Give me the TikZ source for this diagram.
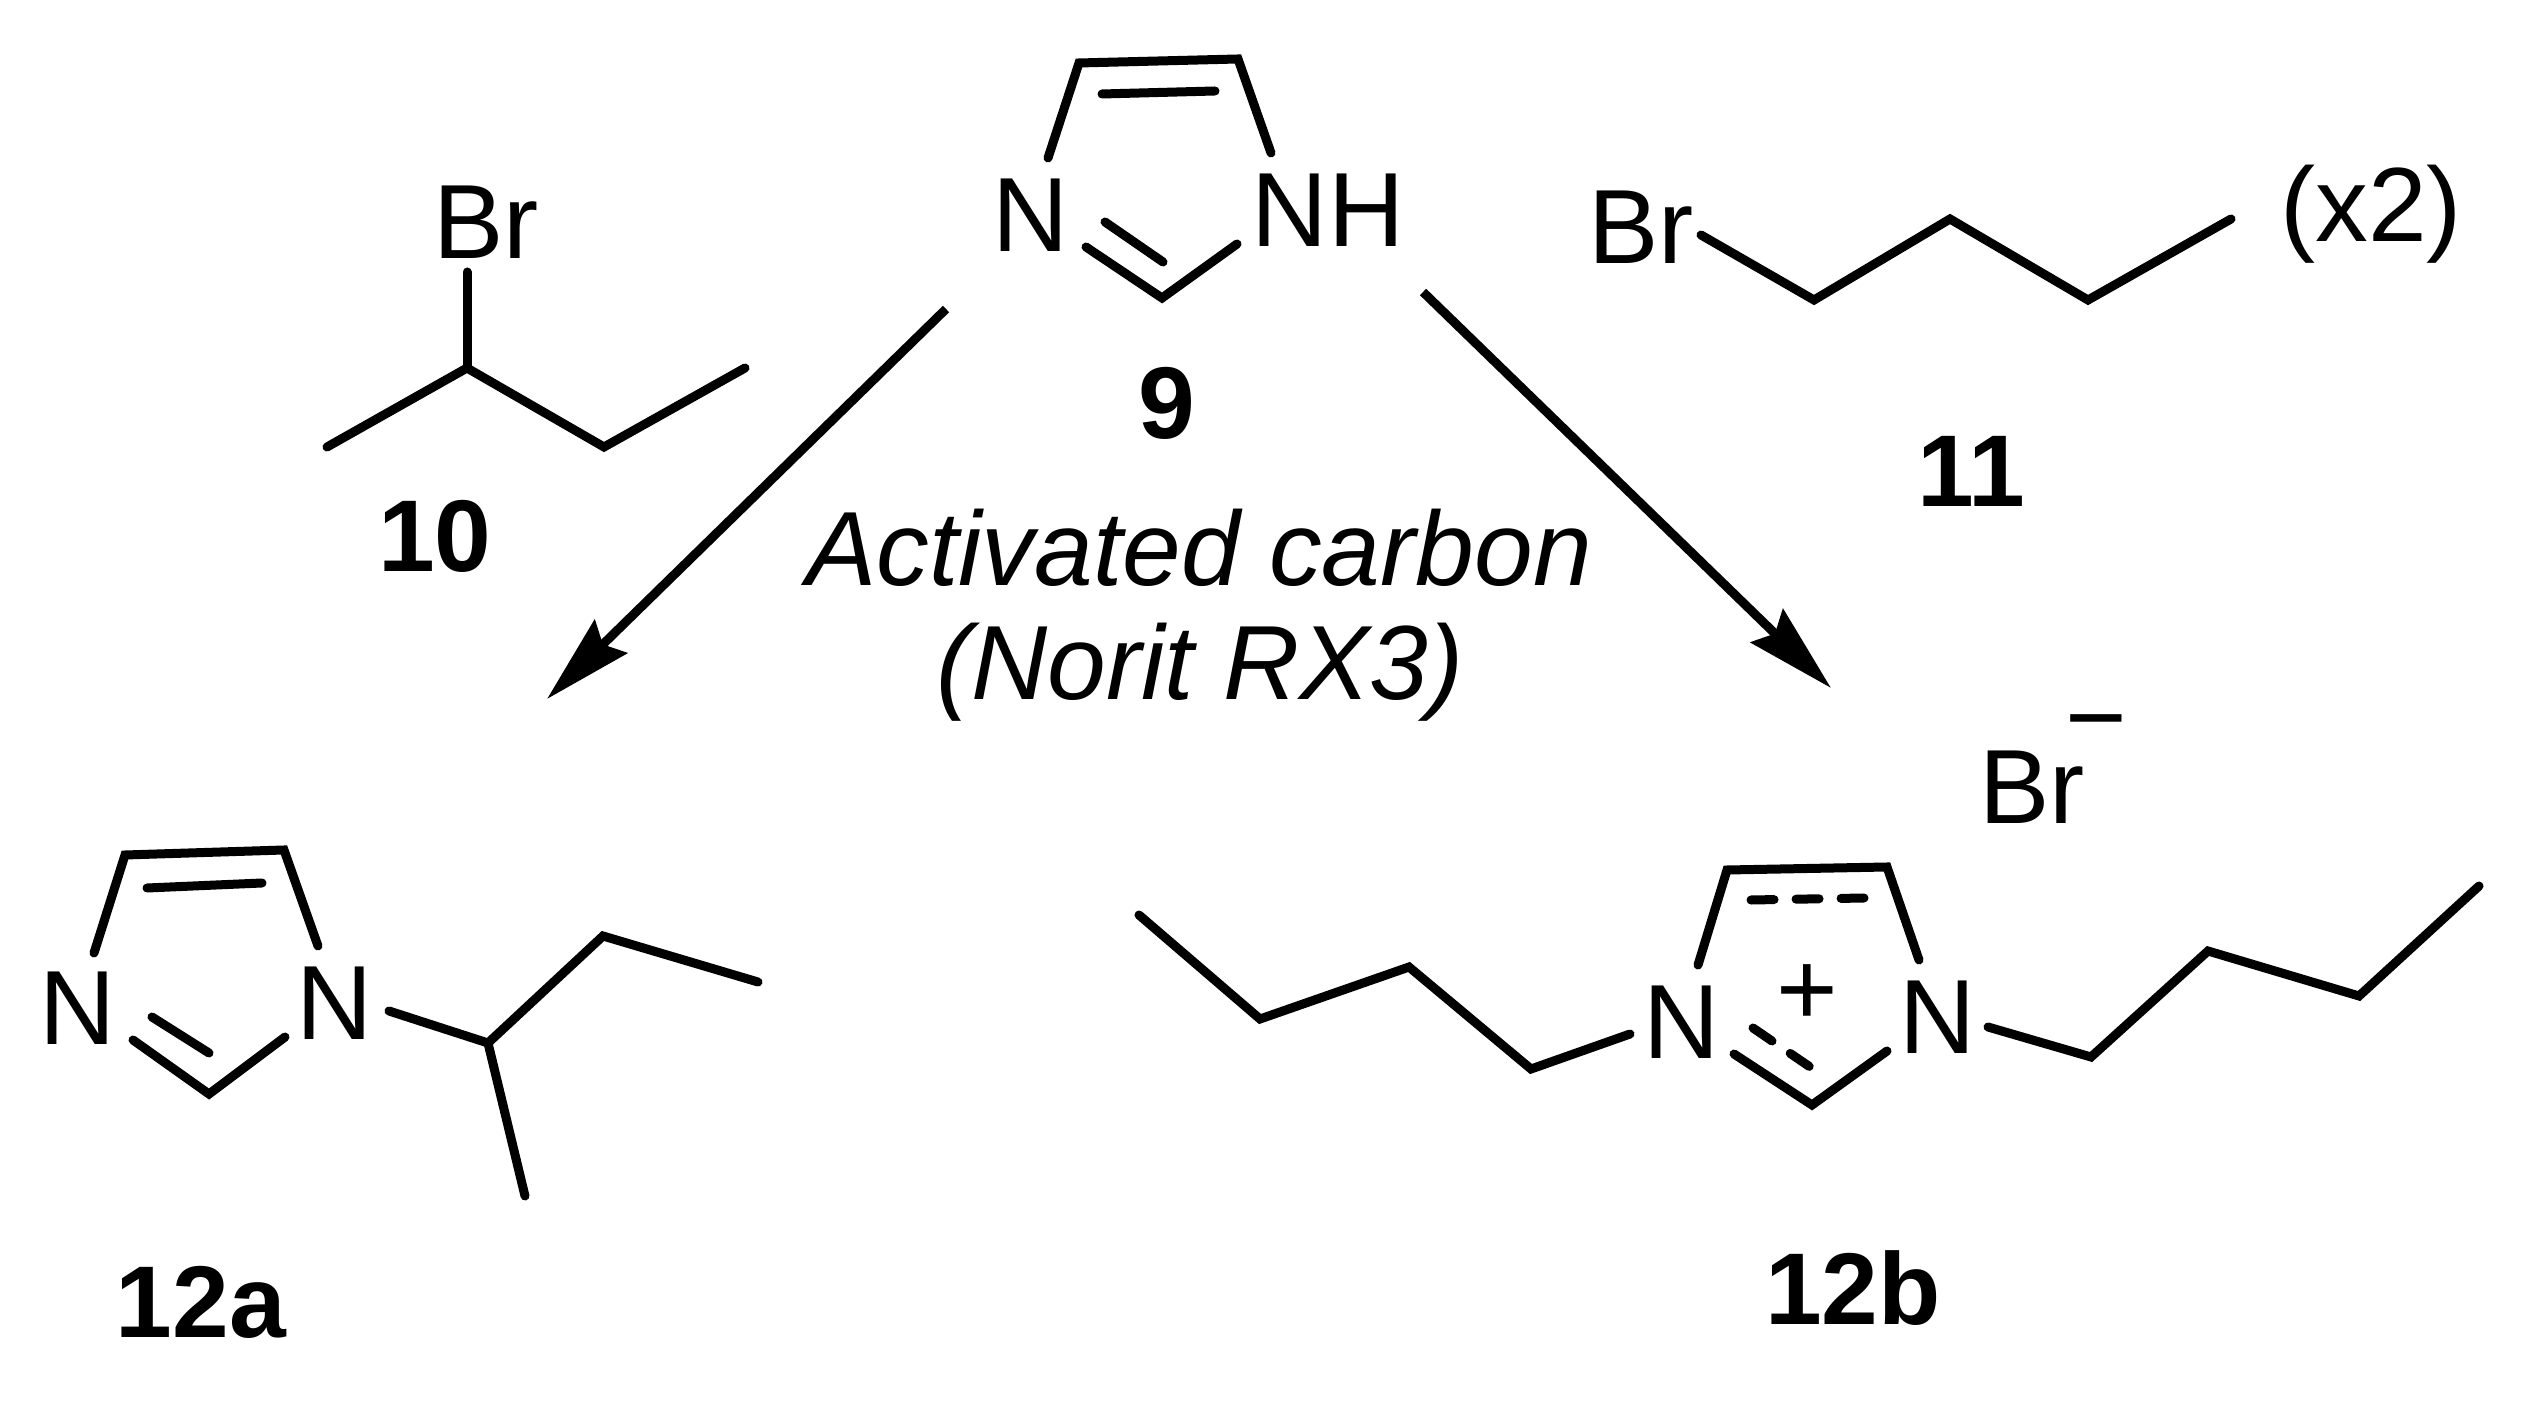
\documentclass[tikz,border=0pt]{standalone}
\usepackage{fontspec}
\setmainfont{Liberation Sans}
\usetikzlibrary{arrows.meta}

\begin{document}
\begin{tikzpicture}[x=0.01cm, y=-0.01cm]
    \tikzstyle{atom} = [inner sep=0pt, font=\fontsize{30}{36}\selectfont]
    \tikzstyle{compound} = [inner sep=0pt, font=\fontsize{29}{35}\selectfont\bfseries]
    \tikzstyle{conditions} = [inner sep=0pt, font=\fontsize{30}{36}\selectfont\itshape]
    \tikzstyle{bond} = [line width=0.09cm, line cap=round, line join=miter]
    \tikzstyle{dashbond} = [bond, dash pattern=on 0.23cm off 0.22cm]
    \tikzstyle{arrow} = [line width=0.09cm, -{Stealth[length=0.89cm, width=0.46cm, inset=0.11cm]}]

    \useasboundingbox (0,0) rectangle (2540,1410);

    % imidazole 9
    \node[atom] (n9a) at (1031,215) {N};
    \node[atom] (n9b) at (1328,210) {NH};
    \node[compound] (lab9) at (1167,403) {9};
    \coordinate (c9a) at (1048,158);
    \coordinate (c9b) at (1079,63);
    \coordinate (c9c) at (1238,59);
    \coordinate (c9d) at (1271,153);
    \coordinate (c9e) at (1086,247);
    \coordinate (c9f) at (1162,298);
    \coordinate (c9g) at (1237,244);
    \coordinate (c9h) at (1102,94);
    \coordinate (c9i) at (1215,91);
    \coordinate (c9j) at (1105,222);
    \coordinate (c9k) at (1163,262);
    \draw[bond] (c9a) -- (c9b) -- (c9c) -- (c9d);
    \draw[bond] (c9e) -- (c9f) -- (c9g);
    \draw[bond] (c9h) -- (c9i);
    \draw[bond] (c9j) -- (c9k);

    % bromide 10
    \node[atom] (br10) at (486,222) {Br};
    \node[compound] (lab10) at (435,536) {10};
    \coordinate (c10a) at (467,272);
    \coordinate (c10b) at (467,368);
    \coordinate (c10c) at (327,447);
    \coordinate (c10d) at (604,447);
    \coordinate (c10e) at (745,368);
    \draw[bond] (c10a) -- (c10b);
    \draw[bond] (c10c) -- (c10b) -- (c10d) -- (c10e);

    % bromide 11
    \node[atom] (br11) at (1641,227) {Br};
    \node[atom] (times) at (2371,214) {(x2)};
    \node[compound] (lab11) at (1971,471) {11};
    \coordinate (c11a) at (1701,235);
    \coordinate (c11b) at (1814,300);
    \coordinate (c11c) at (1950,219);
    \coordinate (c11d) at (2088,300);
    \coordinate (c11e) at (2231,219);
    \draw[bond] (c11a) -- (c11b) -- (c11c) -- (c11d) -- (c11e);

    % conditions and arrows
    \node[conditions] (carbon) at (1199,548) {Activated carbon};
    \node[conditions] (norit) at (1200,672) {(Norit RX3)};
    \coordinate (startl) at (946,309);
    \coordinate (endl) at (547,699);
    \coordinate (startr) at (1423,292);
    \coordinate (endr) at (1831,688);
    \draw[arrow] (startl) -- (endl);
    \draw[arrow] (startr) -- (endr);

    % product 12a
    \node[atom] (n12a) at (78,1008) {N};
    \node[atom] (n12b) at (335,1003) {N};
    \node[compound] (lab12a) at (201,1302) {12a};
    \coordinate (a1) at (94,953);
    \coordinate (a2) at (125,855);
    \coordinate (a3) at (284,850);
    \coordinate (a4) at (318,946);
    \coordinate (a5) at (133,1040);
    \coordinate (a6) at (209,1094);
    \coordinate (a7) at (285,1037);
    \coordinate (a8) at (147,888);
    \coordinate (a9) at (262,883);
    \coordinate (a10) at (152,1017);
    \coordinate (a11) at (209,1053);
    \coordinate (a12) at (389,1011);
    \coordinate (a13) at (488,1043);
    \coordinate (a14) at (603,936);
    \coordinate (a15) at (758,982);
    \coordinate (a16) at (525,1196);
    \draw[bond] (a1) -- (a2) -- (a3) -- (a4);
    \draw[bond] (a5) -- (a6) -- (a7);
    \draw[bond] (a8) -- (a9);
    \draw[bond] (a10) -- (a11);
    \draw[bond] (a12) -- (a13) -- (a14) -- (a15);
    \draw[bond] (a13) -- (a16);

    % product 12b
    \node[atom] (n12c) at (1682,1022) {N};
    \node[atom] (n12d) at (1938,1017) {N};
    \node[atom] (plus) at (1807,995) {+};
    \node[atom] (br12) at (2032,787) {Br};
    \node[atom] (minus) at (2096,734) {\char"2212};
    \node[compound] (lab12b) at (1853,1288) {12b};
    \coordinate (b1) at (1698,965);
    \coordinate (b2) at (1727,870);
    \coordinate (b3) at (1887,867);
    \coordinate (b4) at (1919,960);
    \coordinate (b5) at (1734,1054);
    \coordinate (b6) at (1812,1105);
    \coordinate (b7) at (1887,1051);
    \coordinate (b8) at (1751,900);
    \coordinate (b9) at (1864,898);
    \coordinate (b10) at (1753,1028);
    \coordinate (b11) at (1813,1069);
    \coordinate (b12) at (1139,915);
    \coordinate (b13) at (1260,1019);
    \coordinate (b14) at (1409,967);
    \coordinate (b15) at (1531,1069);
    \coordinate (b16) at (1630,1034);
    \coordinate (b17) at (1988,1027);
    \coordinate (b18) at (2091,1057);
    \coordinate (b19) at (2208,951);
    \coordinate (b20) at (2359,996);
    \coordinate (b21) at (2479,886);
    \draw[bond] (b1) -- (b2) -- (b3) -- (b4);
    \draw[bond] (b5) -- (b6) -- (b7);
    \draw[dashbond] (b8) -- (b9);
    \draw[dashbond] (b10) -- (b11);
    \draw[bond] (b12) -- (b13) -- (b14) -- (b15) -- (b16);
    \draw[bond] (b17) -- (b18) -- (b19) -- (b20) -- (b21);
\end{tikzpicture}
\end{document}
